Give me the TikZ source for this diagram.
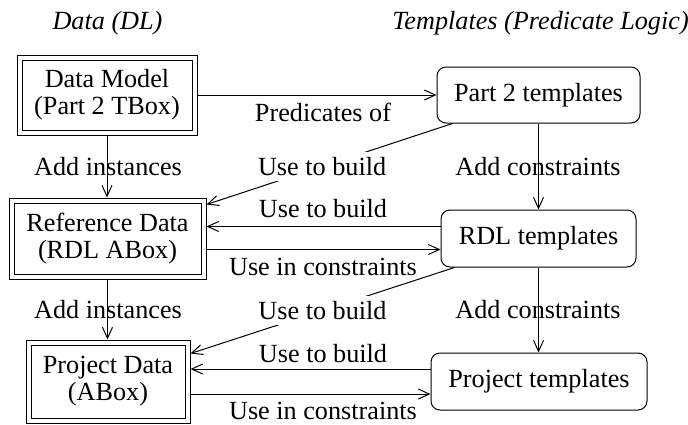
\documentclass[tikz,border=0pt]{standalone}
\usepackage{fontspec}
\setmainfont{Liberation Serif}
\usetikzlibrary{arrows.meta,calc}
\begin{document}
\begin{tikzpicture}[x=1pt,y=-1pt,line width=1pt,
  every node/.style={font=\fontsize{26.2}{27}\selectfont},
  dbox/.style={draw,double,double distance=4pt,align=center,outer sep=3pt,inner sep=0pt},
  rbox/.style={draw,rounded corners=9pt,align=center,inner sep=0pt,minimum height=56pt},
  lab/.style={inner sep=0pt,anchor=base},
  head/.style={inner sep=0pt,anchor=base,font=\fontsize{26.2}{27}\selectfont\itshape},
  arr/.style={-{Straight Barb[length=11pt,width=10pt]}},
  cut/.style={fill=white,inner sep=5pt}]
\useasboundingbox (0,0) rectangle (688,424);

% headers
\node[head] (h1) at (107.5,29) {Data (DL)};
\node[head] (h2) at (540.5,29) {Templates (Predicate Logic)};

% left column
\node[dbox,minimum width=175pt,minimum height=75pt] (dm) at (107,95) {Data Model\\(Part 2 TBox)};
\node[dbox,minimum width=192pt,minimum height=76pt] (rd) at (107.5,238.5) {Reference Data\\(RDL ABox)};
\node[dbox,minimum width=159pt,minimum height=78pt] (pd) at (108,381.5) {Project Data\\(ABox)};

% right column
\node[rbox,minimum width=203pt] (p2) at (538.5,95) {Part 2 templates};
\node[rbox,minimum width=195pt,minimum height=57pt] (rt) at (538.5,238.5) {RDL templates};
\node[rbox,minimum width=216pt,minimum height=57pt] (pt) at (539,381.5) {Project templates};

% vertical arrows
\draw[arr] (dm.south) -- (dm.south |- rd.north);
\draw[arr] (rd.south) -- (rd.south |- pd.north);
\draw[arr] (p2.south) -- (p2.south |- rt.north);
\draw[arr] (rt.south) -- (rt.south |- pt.north);
\node[lab] (ai1) at (108,175) {Add instances};
\node[lab] (ai2) at (108,318) {Add instances};
\node[lab] (ac1) at (538,175) {Add constraints};
\node[lab] (ac2) at (538,318) {Add constraints};

% row 1
\draw[arr] (dm.east) -- (p2.west);
\node[lab] (lp) at (323,121) {Predicates of};

% row 2
\coordinate (r2a) at ($(rt.west)+(0,-12)$);
\coordinate (r2b) at ($(rd.east)+(0,11)$);
\draw[arr] (r2a) -- (r2a -| rd.east);
\draw[arr] (r2b) -- (r2b -| rt.west);
\node[lab] (lu2) at (323,217) {Use to build};
\node[lab] (lc2) at (323,275) {Use in constraints};

% row 3
\coordinate (r3a) at ($(pt.west)+(0,-12.5)$);
\coordinate (r3b) at ($(pd.east)+(0,12.5)$);
\draw[arr] (r3a) -- (r3a -| pd.east);
\draw[arr] (r3b) -- (r3b -| pt.west);
\node[lab] (lu3) at (323,362) {Use to build};
\node[lab] (lc3) at (323,419) {Use in constraints};

% diagonals
\coordinate (d1s) at ($(p2.south west)+(16,0)$);
\coordinate (d1e) at ($(rd.north east)+(0,7)$);
\draw[arr] (d1s) -- node[cut,pos=0.53] (lu1) {Use to build} (d1e);
\coordinate (d2s) at ($(rt.south west)+(14,0)$);
\coordinate (d2e) at ($(pd.north east)+(0,14)$);
\draw[arr] (d2s) -- node[cut,pos=0.5] (lu4) {Use to build} (d2e);
\end{tikzpicture}
\end{document}
